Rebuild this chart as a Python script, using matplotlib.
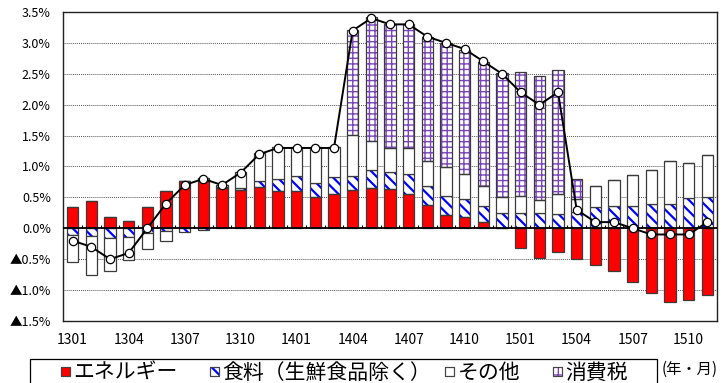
import numpy as np
import matplotlib
matplotlib.use("Agg")
import matplotlib.pyplot as plt
from matplotlib.patches import Rectangle

plt.rcParams['font.family'] = ['Liberation Sans', 'Noto Sans CJK JP', 'DejaVu Sans']
plt.rcParams['hatch.linewidth'] = 1.6
CJK = ['Noto Sans CJK JP', 'DejaVu Sans']

months = ['1301', '1302', '1303', '1304', '1305', '1306', '1307', '1308', '1309', '1310', '1311', '1312',
          '1401', '1402', '1403', '1404', '1405', '1406', '1407', '1408', '1409', '1410', '1411', '1412',
          '1501', '1502', '1503', '1504', '1505', '1506', '1507', '1508', '1509', '1510', '1511']

energy = [0.35, 0.44, 0.19, 0.12, 0.34, 0.60, 0.76, 0.76, 0.65, 0.62, 0.67, 0.61,
          0.61, 0.51, 0.55, 0.62, 0.66, 0.63, 0.55, 0.37, 0.21, 0.19, 0.10, 0.00,
          -0.32, -0.48, -0.38, -0.50, -0.59, -0.69, -0.87, -1.04, -1.19, -1.16, -1.08]

food = [-0.11, -0.13, -0.15, -0.14, -0.07, -0.05, -0.06, -0.02, 0.02, 0.04, 0.10, 0.18,
        0.23, 0.22, 0.28, 0.23, 0.29, 0.28, 0.33, 0.31, 0.31, 0.28, 0.26, 0.24,
        0.24, 0.24, 0.23, 0.27, 0.34, 0.36, 0.36, 0.39, 0.40, 0.49, 0.51]

other = [-0.44, -0.62, -0.54, -0.38, -0.27, -0.16, 0.01, 0.05, 0.03, 0.25, 0.45, 0.52,
         0.47, 0.58, 0.48, 0.66, 0.46, 0.39, 0.42, 0.41, 0.47, 0.41, 0.33, 0.27,
         0.28, 0.22, 0.32, 0.21, 0.35, 0.42, 0.50, 0.55, 0.69, 0.57, 0.67]

tax = [0, 0, 0, 0, 0, 0, 0, 0, 0, 0, 0, 0,
       0, 0, 0, 1.70, 2.01, 2.01, 2.01, 2.01, 2.01, 2.01, 2.00, 2.00,
       2.01, 2.01, 2.01, 0.31, 0, 0, 0, 0, 0, 0, 0]

total = [-0.2, -0.3, -0.5, -0.4, 0.0, 0.4, 0.7, 0.8, 0.7, 0.9, 1.2, 1.3,
         1.3, 1.3, 1.3, 3.2, 3.4, 3.3, 3.3, 3.1, 3.0, 2.9, 2.7, 2.5,
         2.2, 2.0, 2.2, 0.3, 0.1, 0.1, 0.0, -0.1, -0.1, -0.1, 0.1]

yticks = [3.5, 3.0, 2.5, 2.0, 1.5, 1.0, 0.5, 0.0, -0.5, -1.0, -1.5]
legend_labels = ['エネルギー', '食料（生鮮食品除く）', 'その他', '消費税']

FW, FH = 723, 383
fig = plt.figure(figsize=(FW / 100, FH / 100), dpi=100)
ax = fig.add_axes([63.3 / FW, 1 - 321 / FH, (716.7 - 63.3) / FW, (321 - 12) / FH])

x = np.arange(len(months))
W = 0.62
outline = '#3a3a3a'
purple = '#7a45b8'
blue = '#0000ff'

styles = [
    dict(data=energy, face='#ff0000', hatch=None, hcol=None, hlw=1.6),
    dict(data=food, face='white', hatch='\\\\\\', hcol=blue, hlw=1.6),
    dict(data=other, face='white', hatch=None, hcol=None, hlw=1.6),
    dict(data=tax, face='white', hatch='+++', hcol=purple, hlw=1.0),
]

pos_b = np.zeros(len(x))
neg_b = np.zeros(len(x))
for st in styles:
    v = np.array(st['data'], dtype=float)
    bottom = np.where(v >= 0, pos_b, neg_b)
    if st['hatch']:
        with plt.rc_context({'hatch.linewidth': st['hlw']}):
            ax.bar(x, v, W, bottom=bottom, color=st['face'], edgecolor=st['hcol'],
                   hatch=st['hatch'], linewidth=0, zorder=2)
        ax.bar(x, v, W, bottom=bottom, fill=False, edgecolor=outline, linewidth=0.9, zorder=3)
    else:
        ax.bar(x, v, W, bottom=bottom, color=st['face'], edgecolor=outline, linewidth=0.9, zorder=3)
    pos_b = pos_b + np.where(v > 0, v, 0)
    neg_b = neg_b + np.where(v < 0, v, 0)

ax.plot(x, total, color='black', lw=1.4, marker='o', ms=6, mfc='white', mec='black', mew=0.9, zorder=5)

ax.set_xlim(-0.5, len(x) - 0.5)
ax.set_ylim(-1.5, 3.5)
ax.set_yticks(yticks)
ax.set_yticklabels([f'{v:.1f}%' if v >= 0 else f'▲{abs(v):.1f}%' for v in yticks],
                   fontsize=9, family=CJK)
ax.tick_params(axis='y', length=0, pad=9)
ax.set_xticks(x[::3])
ax.set_xticklabels(months[::3], fontsize=10, family=CJK)
ax.tick_params(axis='x', length=0, pad=9)

for v in yticks[1:-1]:
    if v != 0:
        ax.axhline(v, color='#555555', lw=0.7, ls=(0, (1, 1)), zorder=1)
ax.axhline(0, color='black', lw=1.3, zorder=4)
bounds = np.arange(len(x) + 1) - 0.5
ax.vlines(bounds[1:-1], 0, 0.06, color='black', lw=0.8, zorder=4)

for s in ax.spines.values():
    s.set_color('#222222')
    s.set_linewidth(1.0)

# legend (drawn manually to match the boxed layout)
box = Rectangle((30 / FW, -0.1), (656.7 - 30) / FW, (FH - 359) / FH + 0.1,
                transform=fig.transFigure, fill=False, edgecolor='black', lw=0.9, clip_on=False)
fig.add_artist(box)
leg_marker_x = [60.7, 210, 445, 552.7]
leg_faces = ['#ff0000', 'white', 'white', 'white']
leg_edges = [outline, blue, outline, purple]
leg_hatches = [None, '\\\\\\', None, '+']
leg_hlw = [1.6, 1.6, 1.6, 1.0]
msize = 9
for mx, lab, fc, ec, hh, hl in zip(leg_marker_x, legend_labels, leg_faces, leg_edges, leg_hatches, leg_hlw):
    with plt.rc_context({'hatch.linewidth': hl}):
        r = Rectangle((mx / FW, 1 - 376 / FH), msize / FW, msize / FH, transform=fig.transFigure,
                      facecolor=fc, edgecolor=ec, hatch=hh, lw=0.8)
    fig.add_artist(r)
    fig.add_artist(Rectangle((mx / FW, 1 - 376 / FH), msize / FW, msize / FH, transform=fig.transFigure,
                             fill=False, edgecolor='#444444', lw=0.8))
    fig.text((mx + 12.5) / FW, 1 - 372.5 / FH, lab, fontsize=15, ha='left', va='center', family=CJK)

fig.text(662 / FW, 1 - 369 / FH, '(年・月)', fontsize=11, ha='left', va='center', family=CJK)

fig.savefig('out.png', dpi=100)
